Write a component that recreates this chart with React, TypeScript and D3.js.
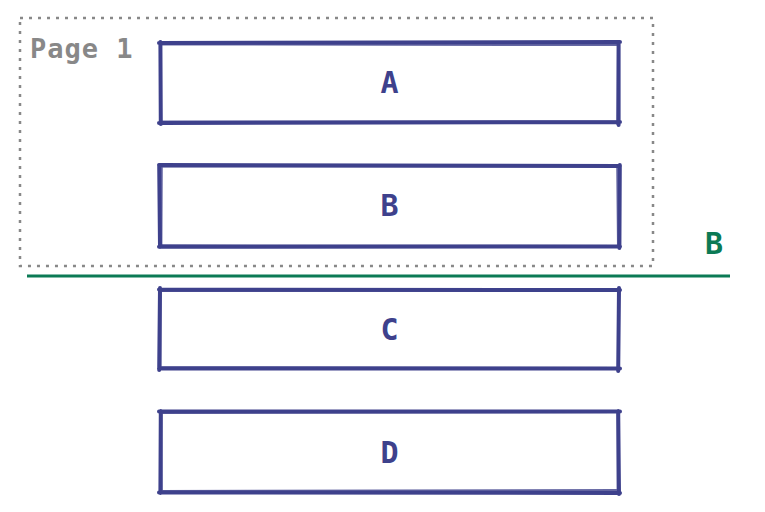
import * as d3 from "d3";

const categories = ["A", "B", "C", "D"];
const pageLabel = "Page 1";
const pageMembers = ["A", "B"];
const breakLabel = "B";

const navy = "#3e418c";
const green = "#0b7a55";
const gray = "#888888";

export default function App() {
  const width = 765;
  const height = 512;

  const y = d3.scaleBand<string>().domain(categories).range([43, 492]).paddingInner(0.35).paddingOuter(0);
  const x = d3.scaleLinear().domain([0, 1]).range([160, 619]);

  const pageTop = (y(pageMembers[0]) ?? 0) - 25;
  const pageBottom = (y(pageMembers[pageMembers.length - 1]) ?? 0) + y.bandwidth() + 20;
  const lineY = pageBottom + 10;

  const font = "'DejaVu Sans Mono', monospace";

  // slightly wobbly sketch edge
  const sketchRect = (x0: number, y0: number, x1: number, y1: number, k: number) => {
    const w = (i: number) => ((i * 7 + k * 3) % 5) - 2;
    return [
      `M${x0 - 1},${y0 + w(1) * 0.5} L${x1 + 1},${y0 - w(2) * 0.5}`,
      `M${x1 + w(3) * 0.4},${y0 - 1} L${x1 - w(4) * 0.4},${y1 + 2}`,
      `M${x1 + 1},${y1 + w(5) * 0.5} L${x0 - 1},${y1 - w(6) * 0.4}`,
      `M${x0 + w(7) * 0.4},${y1 + 1} L${x0 - w(8) * 0.4},${y0 - 1}`,
    ].join(" ");
  };

  return (
    <svg width={width} height={height} style={{ position: "absolute", left: 0, top: 0, background: "#fff" }}>
      <rect x={20} y={pageTop} width={633} height={pageBottom - pageTop} fill="none" stroke={gray} strokeWidth={2.5} strokeDasharray="3 6" />
      <text x={30} y={pageTop + 40} fill={gray} fontFamily={font} fontWeight="bold" fontSize={27} letterSpacing={1}>{pageLabel}</text>
      {categories.map((c, i) => {
        const y0 = y(c) ?? 0;
        const y1 = y0 + y.bandwidth();
        return (
          <g key={c}>
            <rect x={x(0)} y={y0} width={x(1) - x(0)} height={y.bandwidth()} fill="#fff" />
            <path d={sketchRect(x(0), y0, x(1), y1, i)} fill="none" stroke={navy} strokeWidth={4} strokeLinecap="round" />
            <path d={sketchRect(x(0) + 1, y0 + 1, x(1) - 1, y1 - 1, i + 2)} fill="none" stroke={navy} strokeWidth={2} strokeLinecap="round" opacity={0.8} />
            <text x={(x(0) + x(1)) / 2} y={(y0 + y1) / 2} dy="0.35em" textAnchor="middle" fill={navy} fontFamily={font} fontWeight="bold" fontSize={30}>{c}</text>
          </g>
        );
      })}
      <line x1={27} x2={730} y1={lineY} y2={lineY} stroke={green} strokeWidth={3} />
      <text x={714} y={lineY - 22} textAnchor="middle" fill={green} fontFamily={font} fontWeight="bold" fontSize={30}>{breakLabel}</text>
    </svg>
  );
}
